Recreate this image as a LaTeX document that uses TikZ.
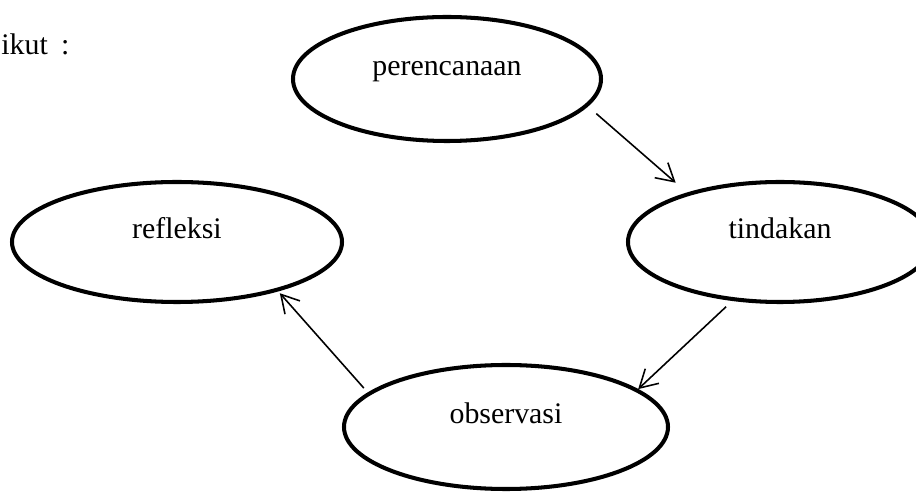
\documentclass[tikz,border=0pt]{standalone}
\usepackage{fontspec}
\setmainfont{Liberation Serif}
\usetikzlibrary{shapes.geometric, arrows.meta, backgrounds}

\begin{document}
\begin{tikzpicture}[
    every node/.style={font=\fontsize{17}{20}\selectfont, text=black},
    phase/.style={
        draw, ellipse, line width=2.3pt,
        inner sep=0pt, align=center,
        text height=0.4cm, text depth=0.54cm
    },
    arrow/.style={-{Straight Barb[length=3.5mm, width=4mm]}, line width=0.9pt, draw=black},
    lbl/.style={anchor=base west, inner sep=0pt}
]

% ── BACKGROUND ─────────────────────────────────────────────────
\begin{scope}[on background layer]
    \fill[white] (0, 0) rectangle (18.32, 9.9);
\end{scope}
\useasboundingbox (0, 0) rectangle (18.32, 9.9);

% === TEXT ===
\node[lbl] (intro) at (0.02, 8.8) {ikut\hspace{7.5pt}:};

% === CYCLE ===
\node[phase, minimum width=6.16cm, minimum height=2.48cm]
    (plan) at (8.94, 8.32) {perencanaan};

\node[phase, minimum width=6.08cm, minimum height=2.4cm]
    (act) at (15.6, 5.06) {tindakan};

\node[phase, minimum width=6.48cm, minimum height=2.48cm]
    (observe) at (10.12, 1.36) {observasi};

\node[phase, minimum width=6.6cm, minimum height=2.4cm]
    (reflect) at (3.54, 5.06) {refleksi};

% ── ARROWS ─────────────────────────────────────────────────────
\draw[arrow, shorten <=0.22cm, shorten >=0.3cm] (plan.-11) -- (act.152);
\draw[arrow, shorten <=0.17cm] (act.-129) -- (observe.16);
\draw[arrow, shorten <=0.12cm, shorten >=0.05cm] (observe.166) -- (reflect.-26);

\end{tikzpicture}
\end{document}
